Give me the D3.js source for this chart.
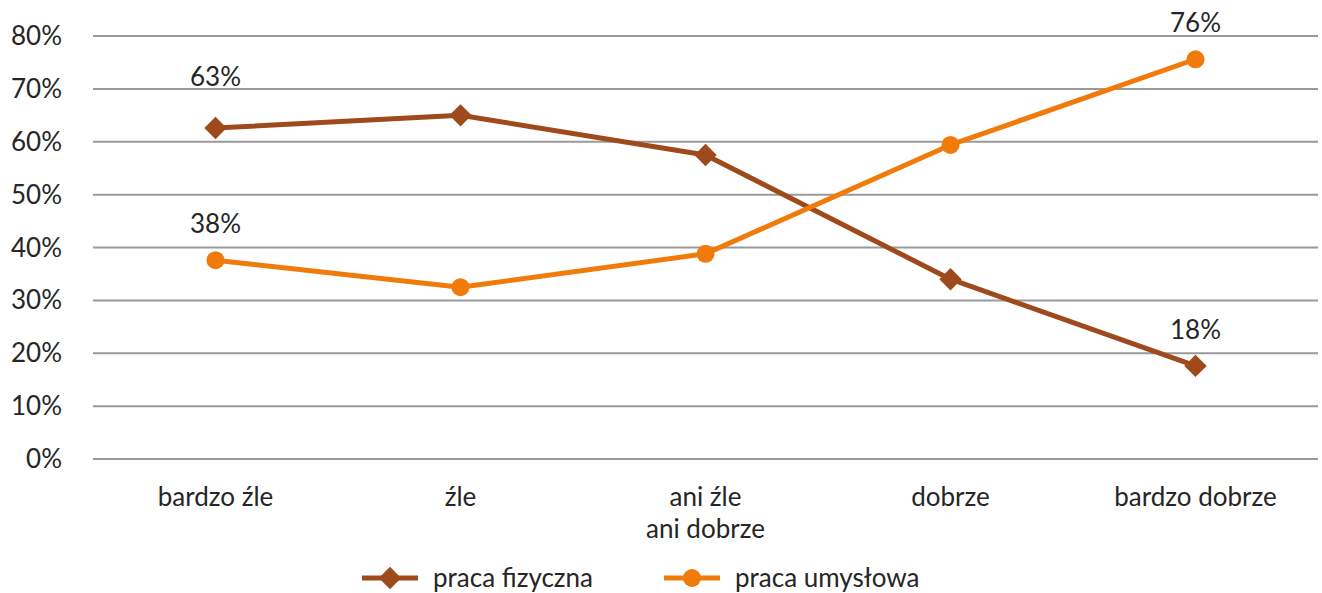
<!DOCTYPE html>
<html>
<head>
<meta charset="utf-8">
<script src="https://cdn.jsdelivr.net/npm/d3@7"></script>
<style>
  body { margin: 0; background: #fff; }
  text { font-family: Lato, "Open Sans", sans-serif; fill: #262626; }
</style>
</head>
<body>
<div id="chart"></div>
<script>
// categories and series
var categories = ["bardzo źle", "źle", "ani źle\nani dobrze", "dobrze", "bardzo dobrze"];
var fizyczna = [0.626, 0.650, 0.575, 0.340, 0.176];
var umyslowa = [0.376, 0.325, 0.388, 0.594, 0.756];
var yTicks = [0, 0.1, 0.2, 0.3, 0.4, 0.5, 0.6, 0.7, 0.8];
var seriesNames = ["praca fizyczna", "praca umysłowa"];
// which points carry a value label: [series index, category index]
var labelled = [[0, 0], [1, 0], [1, 4], [0, 4]];

var W = 1322, H = 593;
var colors = ["#9E4A1C", "#F07A0A"];
var fs = "26px";

var svg = d3.select("#chart").append("svg")
    .attr("width", W)
    .attr("height", H);

var x = d3.scaleBand()
    .domain(d3.range(categories.length))
    .range([93, 1318]);

var y = d3.scaleLinear()
    .domain([0, 0.8])
    .range([459, 36]);

// gridlines
svg.append("g")
    .selectAll("line")
    .data(yTicks)
    .join("line")
    .attr("x1", 93)
    .attr("x2", 1318)
    .attr("y1", d => y(d))
    .attr("y2", d => y(d))
    .attr("stroke", "#9a9a9a")
    .attr("stroke-width", 2);

// y axis labels
svg.append("g")
    .selectAll("text")
    .data(yTicks)
    .join("text")
    .attr("x", 62)
    .attr("y", d => y(d))
    .attr("dy", "0.35em")
    .attr("text-anchor", "end")
    .style("font-size", fs)
    .text(d => d3.format(".0%")(d));

// category labels
var cat = svg.append("g")
    .selectAll("text")
    .data(categories)
    .join("text")
    .attr("text-anchor", "middle")
    .style("font-size", fs);

cat.each(function (d, i) {
    var lines = d.split("\n");
    d3.select(this).selectAll("tspan")
        .data(lines)
        .join("tspan")
        .attr("x", x(i) + x.bandwidth() / 2)
        .attr("y", (l, j) => 506 + j * 32)
        .text(l => l);
});

var cx = i => x(i) + x.bandwidth() / 2;
var line = d3.line()
    .x((d, i) => cx(i))
    .y(d => y(d));

var allSeries = [fizyczna, umyslowa];

allSeries.forEach(function (s, k) {
    svg.append("path")
        .datum(s)
        .attr("fill", "none")
        .attr("stroke", colors[k])
        .attr("stroke-width", 5)
        .attr("stroke-linejoin", "round")
        .attr("d", line);
});

// markers
var diamond = d3.symbol().type(d3.symbolSquare).size(250);

svg.append("g")
    .selectAll("path")
    .data(fizyczna)
    .join("path")
    .attr("d", diamond)
    .attr("transform", (d, i) => `translate(${cx(i)},${y(d)}) rotate(45)`)
    .attr("fill", colors[0]);

svg.append("g")
    .selectAll("circle")
    .data(umyslowa)
    .join("circle")
    .attr("cx", (d, i) => cx(i))
    .attr("cy", d => y(d))
    .attr("r", 9)
    .attr("fill", colors[1]);

// value labels
var labelOffset = {"0,0": 51};
svg.append("g")
    .selectAll("text")
    .data(labelled)
    .join("text")
    .attr("x", d => cx(d[1]))
    .attr("y", d => y(allSeries[d[0]][d[1]]) - (labelOffset[d.join(",")] || 36))
    .attr("dy", "0.35em")
    .attr("text-anchor", "middle")
    .style("font-size", fs)
    .text(d => d3.format(".0%")(allSeries[d[0]][d[1]]));

// legend
var legendX = [362, 664];
var legend = svg.append("g")
    .selectAll("g")
    .data(seriesNames)
    .join("g")
    .attr("transform", (d, i) => `translate(${legendX[i]},578)`);

legend.append("line")
    .attr("x1", 0)
    .attr("x2", 56)
    .attr("stroke", (d, i) => colors[i])
    .attr("stroke-width", 5);

legend.filter((d, i) => i === 0)
    .append("path")
    .attr("d", diamond)
    .attr("transform", "translate(28,0) rotate(45)")
    .attr("fill", colors[0]);

legend.filter((d, i) => i === 1)
    .append("circle")
    .attr("cx", 28)
    .attr("r", 9)
    .attr("fill", colors[1]);

legend.append("text")
    .attr("x", 71)
    .attr("dy", "0.35em")
    .style("font-size", fs)
    .text(d => d);
</script>
</body>
</html>
